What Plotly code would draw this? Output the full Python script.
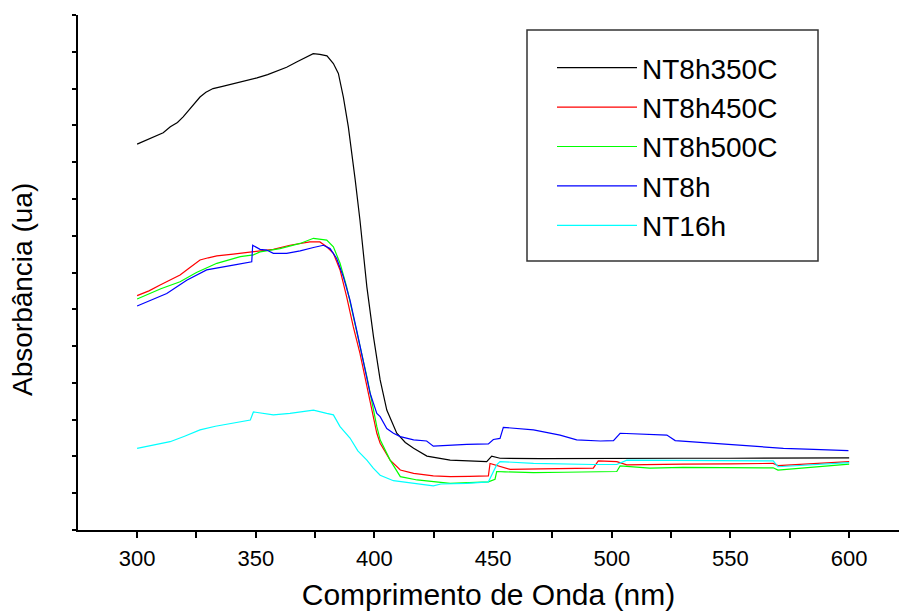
import plotly.graph_objects as go

# ---- data ----
wl_350 = [300, 304, 308.4, 311, 314, 317, 319.4, 323, 326.5, 329,
          332, 336, 340.5, 345, 350.5, 355, 359, 363, 367.4, 371,
          374.2, 377, 380, 382.7, 384.8, 386.9, 389, 391.9, 393.9, 396.8,
          399.6, 402.4, 405.2, 409.4, 413, 416.5, 422.1, 431.9, 440, 447.3,
          449.4, 452.9, 470, 490, 510, 530, 550, 570, 585, 600]
abs_350 = [10.49, 10.60, 10.73, 10.80, 10.96, 11.08, 11.23, 11.50, 11.77, 11.90,
           12.00, 12.06, 12.13, 12.20, 12.29, 12.38, 12.48, 12.58, 12.73, 12.85,
           12.95, 12.93, 12.89, 12.68, 12.41, 11.77, 10.96, 9.51, 8.42, 6.61,
           5.25, 4.08, 3.26, 2.63, 2.38, 2.22, 2.01, 1.90, 1.88, 1.86,
           2.01, 1.95, 1.94, 1.95, 1.94, 1.95, 1.95, 1.96, 1.95, 1.96]

wl_450 = [300, 305, 309.7, 314, 318.1, 322, 326.5, 330, 333.6, 340.5,
          343.5, 349, 357.4, 364.4, 368, 372.8, 377, 379.9, 382.7, 385.5,
          388.3, 391.1, 393.9, 396.8, 398.2, 401, 402.4, 406.6, 410.9, 416.5,
          424.8, 432, 440, 448, 448.7, 452.9, 457.1, 470, 480, 492.2,
          494.3, 502.1, 506.3, 516, 530, 550, 568, 570, 585, 600]
abs_450 = [6.37, 6.50, 6.66, 6.80, 6.93, 7.12, 7.34, 7.40, 7.45, 7.50,
           7.52, 7.56, 7.63, 7.74, 7.78, 7.83, 7.83, 7.70, 7.52, 7.07,
           6.34, 5.52, 4.80, 3.90, 3.53, 2.63, 2.36, 1.90, 1.63, 1.54,
           1.47, 1.45, 1.46, 1.47, 1.81, 1.72, 1.65, 1.66, 1.67, 1.68,
           1.88, 1.86, 1.77, 1.77, 1.79, 1.80, 1.81, 1.75, 1.80, 1.86]

wl_500 = [300, 305, 310, 318.1, 325, 333.6, 343.5, 349, 351.8, 360.2,
          368.7, 374.3, 379.9, 382.7, 385.5, 388.3, 391.1, 393.9, 396.8, 401,
          402.4, 406.6, 410.9, 418, 424.8, 431.9, 440, 448, 450.8, 451.5,
          455, 467, 480, 495.5, 502.1, 503.5, 516, 530, 550, 568,
          570, 585, 600]
abs_500 = [6.28, 6.42, 6.56, 6.75, 7.00, 7.25, 7.43, 7.48, 7.56, 7.65,
           7.79, 7.93, 7.88, 7.70, 7.25, 6.61, 5.80, 4.98, 4.17, 2.81,
           2.45, 1.90, 1.45, 1.36, 1.31, 1.27, 1.29, 1.31, 1.38, 1.59,
           1.58, 1.56, 1.57, 1.58, 1.59, 1.74, 1.68, 1.70, 1.70, 1.69,
           1.63, 1.70, 1.79]

wl_8h = [300, 304.5, 312.5, 320.9, 329.3, 340.5, 348.3, 348.7, 351.8, 354.6,
         357.4, 363, 368.7, 374.3, 378.5, 381.3, 384.1, 386.9, 389.7, 392.5,
         395.3, 398.2, 401, 402.4, 405.2, 408, 410.9, 416.5, 422, 424.8,
         438.9, 448, 450.1, 452.9, 454.3, 467, 478.2, 485.2, 495.2, 500.7,
         503.5, 516.2, 523.2, 526.7, 551, 572.3, 585, 599.7]
abs_8h = [6.09, 6.22, 6.43, 6.79, 7.07, 7.20, 7.29, 7.74, 7.63, 7.61,
          7.52, 7.52, 7.59, 7.68, 7.74, 7.65, 7.38, 6.88, 6.25, 5.43,
          4.62, 3.71, 3.17, 3.08, 2.76, 2.63, 2.54, 2.45, 2.42, 2.28,
          2.33, 2.34, 2.46, 2.49, 2.79, 2.72, 2.58, 2.45, 2.42, 2.43,
          2.63, 2.61, 2.58, 2.43, 2.31, 2.22, 2.19, 2.16]

wl_16h = [300, 306, 313.9, 320, 326.5, 333, 340.6, 347.7, 349, 357.4,
          364.4, 368.7, 374.3, 379.9, 382.7, 385.5, 389.7, 393, 396.8, 399.5,
          402.4, 408, 415, 424.8, 428, 438.9, 448, 451.5, 452.9, 467,
          492.2, 502.1, 506.3, 516.2, 540, 568, 570, 585, 600]
abs_16h = [2.22, 2.30, 2.40, 2.55, 2.72, 2.82, 2.90, 2.99, 3.21, 3.13,
           3.17, 3.21, 3.26, 3.17, 3.13, 2.81, 2.50, 2.15, 1.90, 1.68,
           1.49, 1.34, 1.29, 1.20, 1.25, 1.27, 1.31, 1.77, 1.86, 1.81,
           1.78, 1.78, 1.90, 1.90, 1.88, 1.88, 1.72, 1.78, 1.83]

series_names = ["NT8h350C", "NT8h450C", "NT8h500C", "NT8h", "NT16h"]
series_colors = ["#000000", "#ff0000", "#00ff00", "#0000ff", "#00ffff"]
series_x = [wl_350, wl_450, wl_500, wl_8h, wl_16h]
series_y = [abs_350, abs_450, abs_500, abs_8h, abs_16h]

x_tickvals = [275, 300, 325, 350, 375, 400, 425, 450, 475, 500, 525, 550, 575, 600]
x_ticktext = ["", "300", "", "350", "", "400", "", "450", "", "500", "", "550", "", "600"]

FONT = "Liberation Sans, Arial, sans-serif"

fig = go.Figure()
for name, color, xs, ys in zip(series_names, series_colors, series_x, series_y):
    fig.add_trace(go.Scatter(x=xs, y=ys, mode="lines", name=name,
                             line=dict(color=color, width=1.2)))

# plot-area geometry (pixels)
L, R, T, B = 78, 0, 15, 82
W, H = 899, 612
pw, ph = W - L - R, H - T - B

def px_x(px):
    return (px - L) / pw

def px_y(py):
    return (H - B - py) / ph

fig.update_layout(
    width=W, height=H,
    margin=dict(l=L, r=R, t=T, b=B, pad=0),
    paper_bgcolor="white", plot_bgcolor="white",
    font=dict(family=FONT, color="black"),
    showlegend=True,
    legend=dict(
        x=px_x(552), y=px_y(43), xanchor="left", yanchor="top",
        bgcolor="rgba(0,0,0,0)", borderwidth=0,
        font=dict(size=28, family=FONT, color="black"),
        itemwidth=80, tracegroupgap=0,
    ),
    xaxis=dict(
        range=[275.1, 621.0], showgrid=False, zeroline=False,
        showline=True, linecolor="black", linewidth=2, mirror=False,
        ticks="outside", ticklen=6, tickwidth=2, tickcolor="black",
        tickvals=x_tickvals, ticktext=x_ticktext,
        tickfont=dict(size=22, family=FONT, color="black"),
        ticklabelstandoff=2,
        title=dict(text="Comprimento de Onda (nm)",
                   font=dict(size=30, family=FONT, color="black"), standoff=14),
    ),
    yaxis=dict(
        range=[0, 14], showgrid=False, zeroline=False,
        showline=True, linecolor="black", linewidth=2,
        ticks="outside", ticklen=4, tickwidth=1.5, tickcolor="black",
        dtick=1, tick0=0, showticklabels=False,
    ),
    shapes=[dict(type="rect", xref="paper", yref="paper",
                 x0=px_x(527), x1=px_x(818), y0=px_y(261), y1=px_y(30),
                 line=dict(color="#333333", width=1.5), fillcolor="rgba(0,0,0,0)")],
    annotations=[dict(text="Absorbância (ua)", xref="paper", yref="paper",
                      x=px_x(22), y=px_y(290), xanchor="center", yanchor="middle",
                      textangle=-90, showarrow=False,
                      font=dict(size=28, family=FONT, color="black"))],
)

fig.write_html("out.html")
